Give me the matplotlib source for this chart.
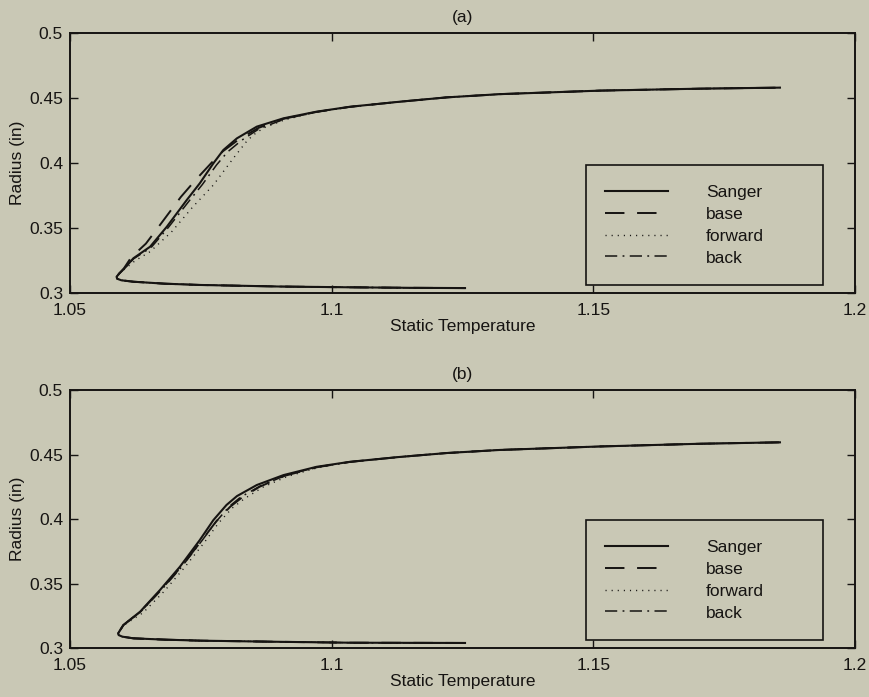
import matplotlib
matplotlib.use("Agg")
import matplotlib.pyplot as plt

# SHARED PARTS OF EACH PANEL (bottom branch + nose, and flat top)
a_low_T = [1.1255, 1.1150, 1.1035, 1.0900, 1.0748, 1.0680, 1.0621, 1.0598, 1.0590, 1.0589, 1.0594]
a_low_r = [0.3038, 0.3040, 0.3044, 0.3050, 0.3062, 0.3072, 0.3087, 0.3098, 0.3110, 0.3125, 0.3150]
a_top_T = [1.1131, 1.1220, 1.1322, 1.1513, 1.1704, 1.1857]
a_top_r = [0.4472, 0.4505, 0.4530, 0.4557, 0.4572, 0.4580]

b_low_T = [1.1255, 1.1150, 1.1035, 1.0900, 1.0748, 1.0680, 1.0621, 1.0600, 1.0593, 1.0592, 1.0596]
b_low_r = [0.3039, 0.3040, 0.3041, 0.3048, 0.3057, 0.3065, 0.3075, 0.3088, 0.3100, 0.3114, 0.3140]
b_top_T = [1.1131, 1.1220, 1.1322, 1.1513, 1.1704, 1.1857]
b_top_r = [0.4482, 0.4512, 0.4536, 0.4563, 0.4584, 0.4595]

# RISING PART, ONE LIST PER SERIES - panel (a)
a_sanger_T = [1.0603, 1.0621, 1.0653, 1.0685, 1.0723, 1.0748, 1.0774, 1.0793, 1.0819, 1.0857, 1.0908, 1.0971, 1.1035]
a_sanger_r = [0.3185, 0.3267, 0.3356, 0.3510, 0.3715, 0.3844, 0.3998, 0.4100, 0.4190, 0.4280, 0.4344, 0.4395, 0.4433]
a_base_T = [1.0603, 1.0617, 1.0645, 1.0675, 1.0712, 1.0740, 1.0770, 1.0792, 1.0822, 1.0860, 1.0908, 1.0971, 1.1035]
a_base_r = [0.3190, 0.3275, 0.3380, 0.3540, 0.3740, 0.3870, 0.4000, 0.4090, 0.4180, 0.4270, 0.4340, 0.4393, 0.4432]
a_forward_T = [1.0603, 1.0625, 1.0653, 1.0694, 1.0735, 1.0774, 1.0812, 1.0837, 1.0850, 1.0870, 1.0912, 1.0971, 1.1035]
a_forward_r = [0.3180, 0.3250, 0.3318, 0.3470, 0.3664, 0.3831, 0.4036, 0.4164, 0.4215, 0.4270, 0.4335, 0.4392, 0.4432]
a_back_T = [1.0603, 1.0622, 1.0655, 1.0688, 1.0727, 1.0753, 1.0780, 1.0801, 1.0828, 1.0862, 1.0910, 1.0971, 1.1035]
a_back_r = [0.3185, 0.3265, 0.3350, 0.3505, 0.3705, 0.3835, 0.3985, 0.4085, 0.4175, 0.4265, 0.4338, 0.4393, 0.4432]

# RISING PART - panel (b)
b_sanger_T = [1.0602, 1.0634, 1.0672, 1.0710, 1.0748, 1.0774, 1.0799, 1.0819, 1.0857, 1.0908, 1.0971, 1.1035]
b_sanger_r = [0.3178, 0.3282, 0.3450, 0.3630, 0.3837, 0.3992, 0.4109, 0.4178, 0.4264, 0.4341, 0.4405, 0.4444]
b_base_T = [1.0602, 1.0634, 1.0673, 1.0712, 1.0751, 1.0779, 1.0806, 1.0828, 1.0862, 1.0910, 1.0972, 1.1035]
b_base_r = [0.3178, 0.3280, 0.3448, 0.3628, 0.3830, 0.3980, 0.4095, 0.4165, 0.4250, 0.4335, 0.4402, 0.4443]
b_forward_T = [1.0602, 1.0640, 1.0680, 1.0718, 1.0757, 1.0784, 1.0810, 1.0834, 1.0870, 1.0915, 1.0975, 1.1035]
b_forward_r = [0.3175, 0.3275, 0.3440, 0.3620, 0.3820, 0.3970, 0.4085, 0.4160, 0.4250, 0.4330, 0.4400, 0.4443]
b_back_T = [1.0602, 1.0635, 1.0674, 1.0713, 1.0752, 1.0780, 1.0805, 1.0826, 1.0863, 1.0911, 1.0972, 1.1035]
b_back_r = [0.3178, 0.3281, 0.3447, 0.3627, 0.3832, 0.3984, 0.4100, 0.4170, 0.4255, 0.4337, 0.4403, 0.4443]

labels = ["Sanger", "base", "forward", "back"]
x_ticks = [1.05, 1.1, 1.15, 1.2]
x_ticklabels = ["1.05", "1.1", "1.15", "1.2"]
y_ticks = [0.3, 0.35, 0.4, 0.45, 0.5]
y_ticklabels = ["0.3", "0.35", "0.4", "0.45", "0.5"]

BG = "#c9c8b5"
INK = "#161412"
FS = 12.5

plt.rcParams["font.family"] = ["Liberation Sans", "DejaVu Sans"]
plt.rcParams["font.size"] = FS

styles = [
    dict(linestyle="-", linewidth=1.5),
    dict(linestyle=(0, (10, 6.5)), linewidth=1.4),
    dict(linestyle=(0, (0.8, 3.6)), linewidth=1.0),
    dict(linestyle=(0, (8, 3.5, 1.2, 3.5)), linewidth=1.1),
]


def draw_panel(ax, title, low_T, low_r, top_T, top_r, rising):
    ax.set_facecolor(BG)
    # each series = bottom branch -> its own rising part -> flat top
    for (T, r), lab, st in zip(rising, labels, styles):
        ax.plot(low_T + T + top_T, low_r + r + top_r, color=INK, label=lab, **st)

    ax.set_xlim(1.05, 1.2)
    ax.set_ylim(0.3, 0.5)
    ax.set_xticks(x_ticks)
    ax.set_xticklabels(x_ticklabels)
    ax.set_yticks(y_ticks)
    ax.set_yticklabels(y_ticklabels)
    ax.tick_params(direction="in", length=6, width=1.0, colors=INK,
                   top=True, right=True)
    ax.tick_params(axis="x", pad=7)
    ax.tick_params(axis="y", pad=5)
    for sp in ax.spines.values():
        sp.set_linewidth(1.4)
        sp.set_color(INK)

    ax.set_title(title, fontsize=FS, color=INK, pad=8)
    ax.set_xlabel("Static Temperature", color=INK, labelpad=1)
    ax.set_ylabel("Radius (in)", color=INK, labelpad=3)

    leg = ax.legend(loc="lower left", bbox_to_anchor=(0.657, 0.031, 0.302, 0.46),
                    mode="expand", borderaxespad=0, fancybox=False,
                    edgecolor=INK, facecolor=BG, framealpha=1,
                    handlelength=3.6, handletextpad=2.2, labelspacing=0.39,
                    borderpad=1.12)
    leg.get_frame().set_linewidth(1.2)
    for t in leg.get_texts():
        t.set_color(INK)


def main():
    fig = plt.figure(figsize=(8.7, 6.97), dpi=100)
    fig.patch.set_facecolor(BG)

    ax_a = fig.add_axes([0.0805, 0.5796, 0.902, 0.373])
    ax_b = fig.add_axes([0.0805, 0.0703, 0.902, 0.370])

    draw_panel(ax_a, "(a)", a_low_T, a_low_r, a_top_T, a_top_r,
               [(a_sanger_T, a_sanger_r), (a_base_T, a_base_r),
                (a_forward_T, a_forward_r), (a_back_T, a_back_r)])
    draw_panel(ax_b, "(b)", b_low_T, b_low_r, b_top_T, b_top_r,
               [(b_sanger_T, b_sanger_r), (b_base_T, b_base_r),
                (b_forward_T, b_forward_r), (b_back_T, b_back_r)])

    fig.savefig("out.png", dpi=100, facecolor=BG)


main()
